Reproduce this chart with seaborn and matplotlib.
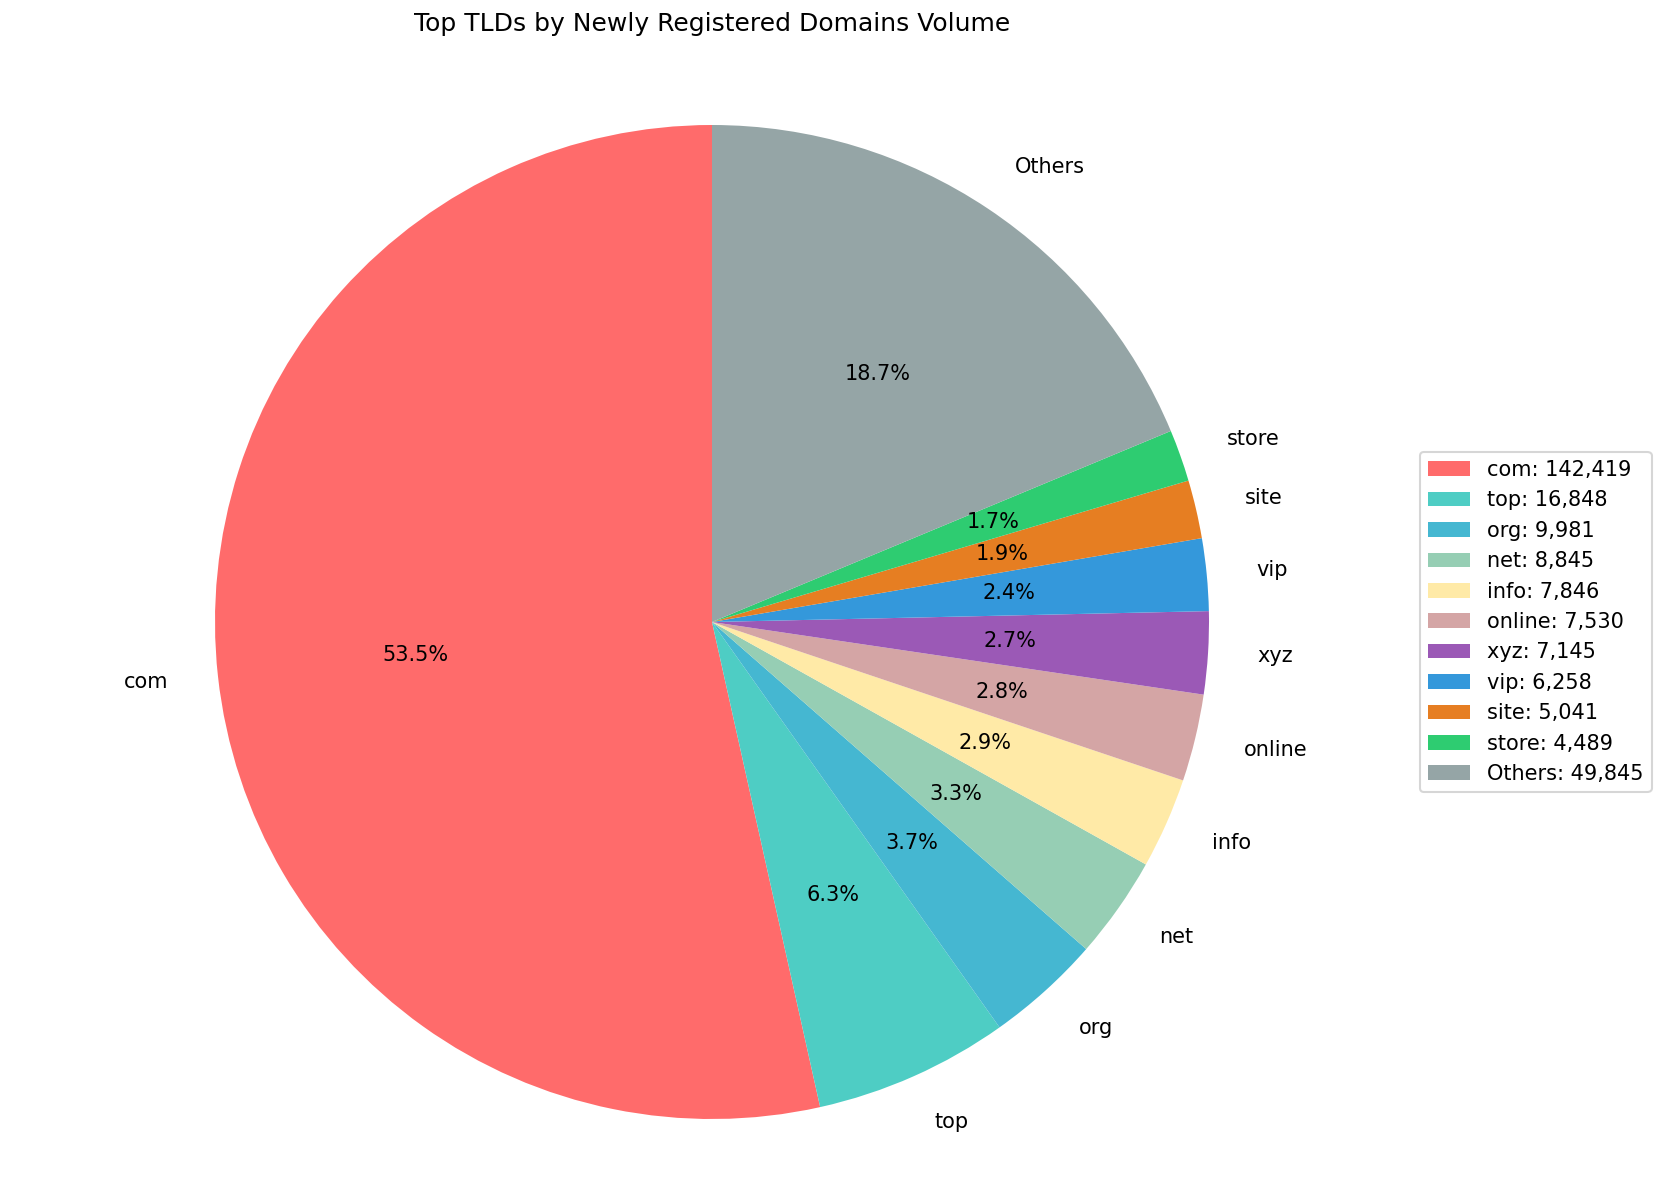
import numpy as np
import pandas as pd
import matplotlib.pyplot as plt
import seaborn as sns

tlds = ['com', 'top', 'org', 'net', 'info', 'online', 'xyz', 'vip', 'site', 'store', 'Others']
counts = [142419, 16848, 9981, 8845, 7846, 7530, 7145, 6258, 5041, 4489, 49845]
colors = ['#FF6B6B', '#4ECDC4', '#45B7D1', '#96CEB4', '#FFEAA7', '#D4A5A5',
          '#9B59B6', '#3498DB', '#E67E22', '#2ECC71', '#95A5A6']

plt.rcParams['font.family'] = ['DejaVu Sans']

df = pd.DataFrame({'tld': tlds, 'count': counts})

W, H = 1666, 1185
fig = plt.figure(figsize=(W / 150, H / 150), dpi=150)
# pie centre (712, 622) px from top-left, radius ~497 px
half = 1.25 * 497
ax = fig.add_axes([(712 - half) / W, (H - 622 - half) / H, 2 * half / W, 2 * half / H])

wedges, texts, autotexts = ax.pie(
    df['count'], labels=df['tld'], colors=sns.color_palette(colors),
    autopct='%1.1f%%', startangle=90,
    wedgeprops={'linewidth': 0}, textprops={'fontsize': 10, 'color': 'black'})
ax.set_aspect('equal')

fig.text(712 / W, 1 - 24 / H, 'Top TLDs by Newly Registered Domains Volume',
         ha='center', va='center', fontsize=12)

legend_labels = [f'{t}: {c:,}' for t, c in zip(df['tld'], df['count'])]
fig.legend(wedges, legend_labels, loc='center left',
           bbox_to_anchor=(1420 / W, 1 - 622 / H), borderaxespad=0,
           fontsize=10, frameon=True)

fig.savefig('out.png', dpi=150)
